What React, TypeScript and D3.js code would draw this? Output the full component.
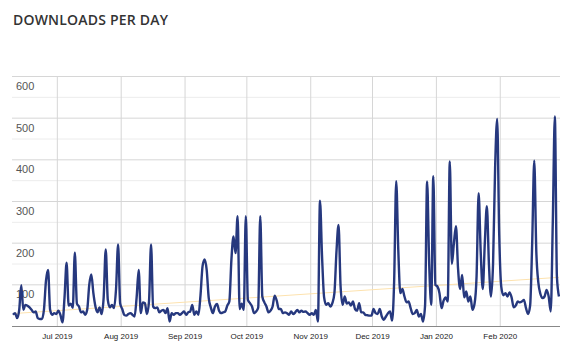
import React from "react";
import * as d3 from "d3";

const startDate = "2019-06-09";
const juneValues = [28, 32, 20, 40, 99, 40, 52, 50, 46, 40, 34, 36, 20, 18, 18, 40, 110, 136, 40, 28, 32, 30];
const julyValues = [38, 28, 10, 70, 153, 50, 55, 45, 177, 55, 48, 34, 36, 28, 40, 100, 125, 80, 48, 34, 46, 30, 70, 185, 64, 46, 52, 44, 90, 197, 55];
const augValues = [42, 28, 26, 30, 32, 28, 24, 70, 136, 32, 58, 56, 30, 60, 197, 48, 44, 46, 34, 38, 40, 32, 44, 12, 32, 28, 32, 32, 28, 32, 36];
const sepValues = [28, 34, 36, 52, 28, 36, 28, 75, 145, 161, 136, 68, 46, 32, 48, 54, 38, 32, 34, 36, 50, 60, 160, 216, 176, 265, 42, 55, 40, 265];
const octValues = [64, 56, 48, 32, 36, 45, 265, 72, 58, 48, 34, 38, 48, 74, 62, 42, 42, 32, 34, 32, 28, 36, 30, 34, 40, 34, 38, 35, 36, 32, 28];
const novValues = [32, 28, 40, 12, 302, 168, 70, 52, 56, 48, 56, 80, 180, 244, 96, 52, 72, 55, 58, 50, 60, 42, 38, 56, 34, 34, 28, 27, 26, 26];
const decValues = [42, 32, 30, 42, 24, 16, 24, 32, 36, 14, 110, 349, 184, 80, 90, 72, 58, 60, 44, 30, 32, 40, 24, 30, 12, 50, 348, 150, 52, 361, 100];
const janValues = [96, 80, 44, 62, 70, 60, 396, 150, 200, 241, 140, 90, 124, 70, 84, 60, 72, 40, 54, 120, 320, 180, 90, 200, 289, 150, 72, 150, 380, 498, 220];
const febValues = [95, 75, 80, 72, 82, 70, 46, 50, 60, 58, 60, 64, 44, 30, 50, 200, 398, 180, 105, 78, 68, 72, 88, 72, 36, 250, 504, 120, 72];

const trendValues = [31, 118];
const yTickValues = [100, 200, 300, 400, 500, 600];
const monthTicks = ["2019-07-01", "2019-08-01", "2019-09-01", "2019-10-01", "2019-11-01", "2019-12-01", "2020-01-01", "2020-02-01"];
const title = "DOWNLOADS PER DAY";

export default function App() {
  const W = 574;
  const H = 355;
  const parse = d3.utcParse("%Y-%m-%d");
  const start = parse(startDate) as Date;
  const all = [...juneValues, ...julyValues, ...augValues, ...sepValues, ...octValues, ...novValues, ...decValues, ...janValues, ...febValues];
  const data = all.map((v, i) => ({ date: d3.utcDay.offset(start, i), v }));
  const end = d3.utcDay.offset(start, all.length);

  const left = 12, right = 560, top = 76.5, bottom = 326.5;
  const x = d3.scaleUtc().domain([start, end]).range([left, right]);
  const y = d3.scaleLinear().domain([0, 600]).range([bottom, top]);
  const mid = (d: Date) => x(d3.utcHour.offset(d, 12));

  const line = d3
    .line<{ date: Date; v: number }>()
    .x((d) => mid(d.date))
    .y((d) => y(d.v))
    .curve(d3.curveMonotoneX);

  const gridVals = y.ticks(12).filter((v) => v > 0);
  const months = monthTicks.map((s) => parse(s) as Date);
  const fmt = d3.utcFormat("%b %Y");

  const t0 = data[0].date;
  const t1 = data[data.length - 1].date;

  return (
    <svg width={W} height={H} style={{ position: "absolute", left: 0, top: 0, background: "#fff" }}>
      <text x={13} y={25} fontFamily="'Open Sans', sans-serif" fontWeight={600} fontSize={14} fill="#333" letterSpacing={0.2}>
        {title}
      </text>
      {gridVals.map((v) => (
        <line key={"h" + v} x1={left} x2={right} y1={y(v)} y2={y(v)} stroke={v % 100 === 0 ? "#d6d6d6" : "#ececec"} strokeWidth={1} />
      ))}
      {months.map((m) => (
        <line key={"v" + m.getTime()} x1={x(m)} x2={x(m)} y1={top} y2={bottom} stroke="#d6d6d6" strokeWidth={1} />
      ))}
      {yTickValues.map((v) => (
        <text key={"yl" + v} x={16} y={y(v) + 13.5} fontFamily="'Liberation Sans', Arial, sans-serif" fontSize={11} fill="#555">
          {v}
        </text>
      ))}
      <line x1={mid(t0)} x2={mid(t1)} y1={y(trendValues[0])} y2={y(trendValues[1])} stroke="#fde2ae" strokeWidth={1} />
      <path d={line(data) || ""} fill="none" stroke="#26387e" strokeWidth={2.4} strokeLinejoin="round" />
      <line x1={left} x2={right} y1={bottom} y2={bottom} stroke="#888" strokeWidth={1.2} />
      {months.map((m) => (
        <text key={"xl" + m.getTime()} x={x(m)} y={339} textAnchor="middle" fontFamily="'Liberation Sans', Arial, sans-serif" fontSize={8} fill="#222">
          {fmt(m)}
        </text>
      ))}
    </svg>
  );
}
